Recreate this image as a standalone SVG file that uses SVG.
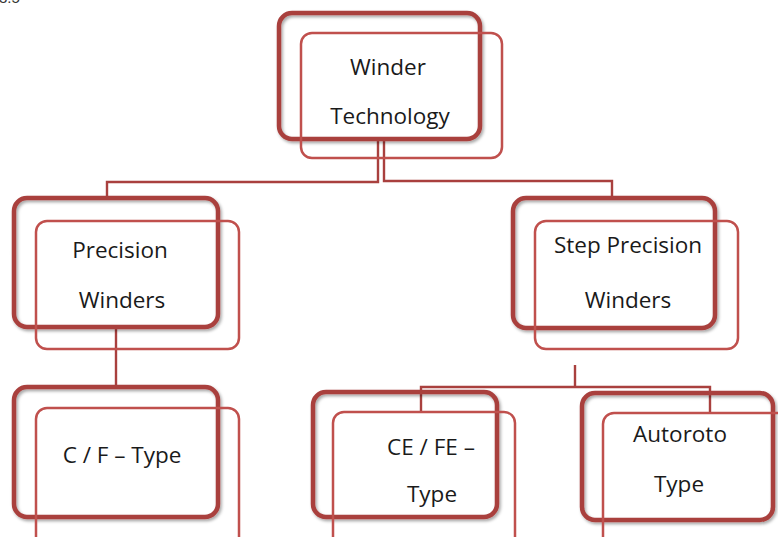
<svg xmlns="http://www.w3.org/2000/svg" width="778" height="537" viewBox="0 0 778 537">
<defs>
<filter id="sh" x="-10%" y="-10%" width="130%" height="130%">
<feDropShadow dx="1.5" dy="2" stdDeviation="1.5" flood-color="#000" flood-opacity="0.35"/>
</filter>
<style>
.outer{fill:none;stroke:#a9403e;stroke-width:4.5;filter:url(#sh)}
.inner{fill:none;stroke:#c0504d;stroke-width:2.5}
.conn{fill:none;stroke:#a9403e;stroke-width:2.4}
.t{font-family:"Open Sans","DejaVu Sans",sans-serif;font-size:22.5px;fill:#1a1a1a;text-anchor:middle}
</style>
</defs>
<rect width="778" height="537" fill="#fff"/>
<text x="-1" y="3" style="font-family:'Liberation Sans',sans-serif;font-size:15px;fill:#333">3.5</text>
<g id="connectors">
<polyline class="conn" points="378,139 378,182 107,182 107,198"/>
<polyline class="conn" points="384,139 384,181 612,181 612,198"/>
<polyline class="conn" points="116,327 116,387"/>
<polyline class="conn" points="575,365 575,387"/>
<polyline class="conn" points="421,413 421,387 710,387 710,413"/>
</g>
<g id="n-winder-technology">
<rect class="outer" x="279" y="13" width="201" height="126" rx="13"/>
<rect class="inner" x="301" y="33" width="201" height="125" rx="11"/>
<text class="t" x="388" y="75">Winder</text>
<text class="t" x="390" y="124">Technology</text>
</g>
<g id="n-precision-winders">
<rect class="outer" x="14" y="198" width="204" height="129" rx="13"/>
<rect class="inner" x="36" y="221" width="203" height="128" rx="11"/>
<text class="t" x="120" y="258">Precision</text>
<text class="t" x="122" y="308">Winders</text>
</g>
<g id="n-step-precision-winders">
<rect class="outer" x="513" y="198" width="202" height="130" rx="13"/>
<rect class="inner" x="535" y="221" width="203" height="128" rx="11"/>
<text class="t" x="628" y="253">Step Precision</text>
<text class="t" x="628" y="308">Winders</text>
</g>
<g id="n-cf-type">
<rect class="outer" x="14" y="387" width="204" height="130" rx="13"/>
<rect class="inner" x="36" y="408" width="203" height="140" rx="11"/>
<text class="t" x="122" y="463">C / F – Type</text>
</g>
<g id="n-cefe-type">
<rect class="outer" x="313" y="392" width="184" height="125" rx="13"/>
<rect class="inner" x="333" y="412" width="182" height="140" rx="11"/>
<text class="t" x="431" y="455">CE / FE –</text>
<text class="t" x="432" y="502">Type</text>
</g>
<g id="n-autoroto-type">
<rect class="outer" x="582" y="393" width="191" height="127" rx="13"/>
<rect class="inner" x="603" y="413" width="200" height="140" rx="11"/>
<text class="t" x="680" y="442">Autoroto</text>
<text class="t" x="679" y="492">Type</text>
</g>
</svg>
